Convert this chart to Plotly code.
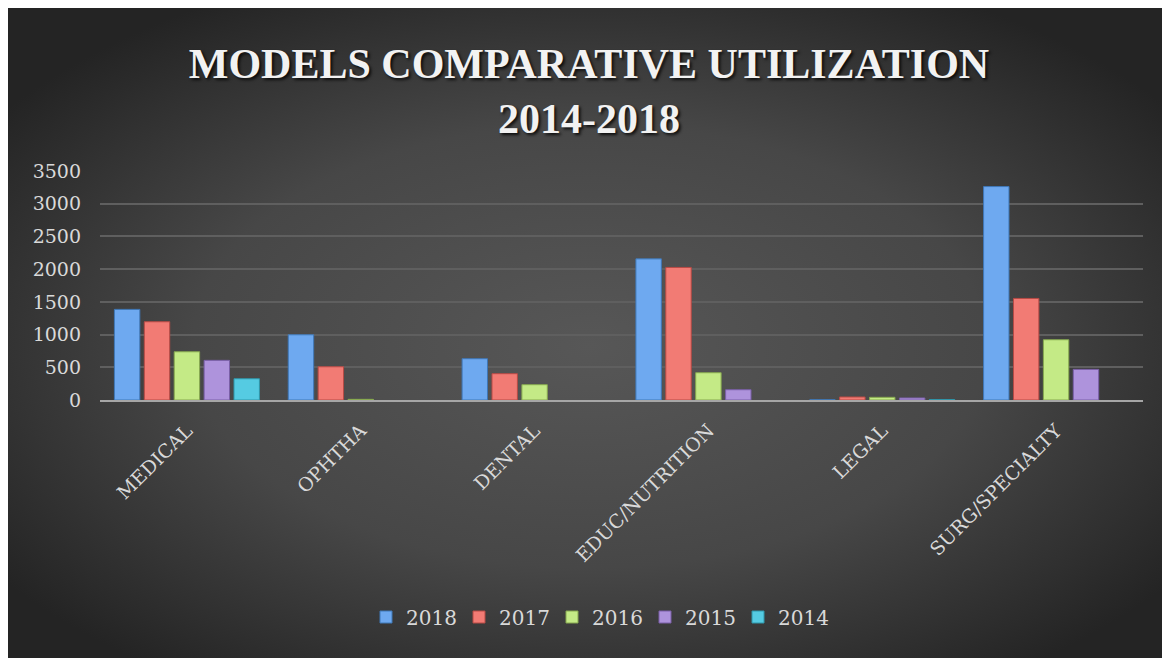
import base64
import plotly.graph_objects as go

categories = ["MEDICAL", "OPHTHA", "DENTAL", "EDUC/NUTRITION", "LEGAL", "SURG/SPECIALTY"]
years = ["2018", "2017", "2016", "2015", "2014"]
v2018 = [1385, 997, 631, 2157, 3, 3262]
v2017 = [1196, 508, 402, 2026, 46, 1552]
v2016 = [737, 10, 234, 417, 41, 921]
v2015 = [606, None, None, 157, 31, 468]
v2014 = [325, None, None, None, 5, None]
series = [v2018, v2017, v2016, v2015, v2014]
fill_colors = ["#6ea9f0", "#f27b74", "#c4ea86", "#ae93dc", "#55cbe2"]
edge_colors = ["#3f78b8", "#b84a45", "#86a84f", "#7a5fa8", "#2f97ab"]

# figure geometry (px); page body adds an 8px offset
W, H = 1162, 650
L, R, T, B = 92, 27, 163, 258
pw, ph = W - L - R, H - T - B

svg = f'''<svg xmlns="http://www.w3.org/2000/svg" width="{W}" height="{H}">
<defs><radialGradient id="g" cx="0.5" cy="0.52" r="0.62" fx="0.5" fy="0.52">
<stop offset="0" stop-color="#575757"/><stop offset="0.55" stop-color="#474747"/>
<stop offset="1" stop-color="#242424"/></radialGradient></defs>
<rect width="{W}" height="{H}" fill="url(#g)"/></svg>'''
bg_src = "data:image/svg+xml;base64," + base64.b64encode(svg.encode()).decode()

fig = go.Figure()
for name, vals, fc, ec in zip(years, series, fill_colors, edge_colors):
    fig.add_trace(go.Bar(
        x=categories, y=vals, name=name,
        marker=dict(color=fc, line=dict(color=ec, width=1)),
    ))

fig.add_layout_image(dict(
    source=bg_src, xref="paper", yref="paper",
    x=-L / pw, y=(H - B) / ph,
    sizex=W / pw, sizey=H / ph,
    xanchor="left", yanchor="top", sizing="stretch", layer="below",
))

serif = "DejaVu Serif"
fig.update_layout(
    width=W, height=H,
    margin=dict(l=L, r=R, t=T, b=B),
    paper_bgcolor="#3a3a3a",
    plot_bgcolor="rgba(0,0,0,0)",
    barmode="group", bargap=0.14, bargroupgap=0.15,
    title=dict(
        text="MODELS COMPARATIVE UTILIZATION<br>2014-2018",
        x=0.5, xanchor="center", xref="container",
        y=1 - 70 / H, yanchor="middle", yref="container",
        font=dict(family="Liberation Serif", size=42, color="#f2f2f2",
                  weight="bold", shadow="2px 2px 3px rgba(0,0,0,0.8)"),
    ),
    xaxis=dict(
        tickangle=-45, showgrid=False,
        tickfont=dict(family=serif, size=19, color="#d9d9d9"),
        showline=True, linecolor="#a6a6a6", linewidth=2,
        ticks="", ticklabelstandoff=10,
    ),
    yaxis=dict(
        range=[0, 3500], dtick=500,
        gridcolor="#5f5f5f", gridwidth=1.5,
        zeroline=False,
        tickfont=dict(family=serif, size=19, color="#d9d9d9"),
        ticklabelstandoff=18,
    ),
    legend=dict(
        orientation="h", x=(366 - 8 - L) / pw, xanchor="left",
        y=(H - B - 609) / ph, yanchor="middle",
        font=dict(family=serif, size=20, color="#d9d9d9"),
        bgcolor="rgba(0,0,0,0)",
        itemwidth=30, entrywidth=48,
    ),
    showlegend=True,
)

fig.write_html("out.html")
